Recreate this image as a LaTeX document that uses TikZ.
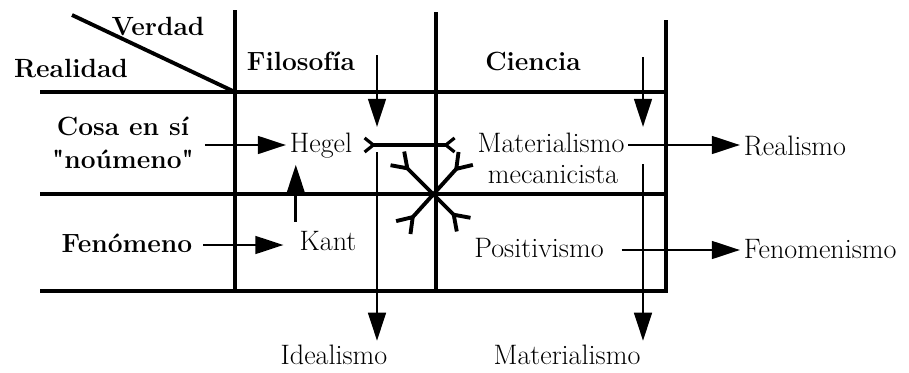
\documentclass[tikz,border=0pt]{standalone}
\usetikzlibrary{arrows.meta,calc,positioning}
% straight double quote, not turned into a curly one
\newcommand{\sq}{\XeTeXglyph\XeTeXcharglyph"22\relax}

\begin{document}
\begin{tikzpicture}[x=0.02cm,y=-0.02cm,>={Triangle[length=16pt,width=10pt]},
  font=\fontsize{16}{19}\selectfont,
  lbl/.style={inner sep=2pt,text height=11pt,text depth=3pt},
  head/.style={lbl,font=\fontsize{15}{18}\selectfont\bfseries},
  grid/.style={line width=1.8pt},
  arr/.style={->,line width=1.6pt},
  fork/.style={{Straight Barb[reversed,length=5pt,width=8pt]}-{Straight Barb[reversed,length=5pt,width=8pt]},line width=1.8pt},
  bigfork/.style={{Straight Barb[reversed,length=8pt,width=11pt]}-{Straight Barb[reversed,length=8pt,width=11pt]},line width=2.2pt}]
  \useasboundingbox (0,0) rectangle (909,372);
  % table
  \foreach \y in {92,194,291}
    \draw[grid] (40,\y) -- (666,\y);
  \draw[grid] (235,10) -- (235,291);
  \draw[grid] (436,12) -- (436,291);
  \draw[grid] (666,20) -- (666,293);
  \draw[line width=2.2pt] (72,15) -- (235,92);
  % headers
  \node[head] (verdad) at (158,28) {Verdad};
  \node[head] (realidad) at (71,70) {Realidad};
  \node[head] (filo) at (301,63) {Filosofía};
  \node[head] (cien) at (533,63) {Ciencia};
  \node[head] (cosa) at (123,128) {Cosa en sí};
  \node[head] (noum) at (123,161) {\sq noúmeno\sq};
  \node[head] (fen) at (127,245) {Fenómeno};
  % cells
  \node[lbl] (hegel) at (321,145) {Hegel};
  \node[lbl] (kant) at (328,243) {Kant};
  \node[lbl] (mat) at (551,145) {Materialismo};
  \node[lbl] (mec) at (553,176) {mecanicista};
  \node[lbl] (posit) at (539,250) {Positivismo};
  \node[lbl,anchor=west] (real) at (740,148) {Realismo};
  \node[lbl,anchor=west] (fenism) at (740,251) {Fenomenismo};
  \node[lbl] (ideal) at (334,357) {Idealismo};
  \node[lbl] (matb) at (567,357) {Materialismo};
  % arrows into the cells
  \draw[arr,shorten <=4pt] (noum.east |- hegel.west) -- (hegel.west);
  \draw[arr,shorten <=4pt,shorten >=7pt] (fen.east) -- (fen.east -| kant.west);
  \draw[arr,shorten <=3pt,shorten >=2pt] (kant.north west) -- (kant.north west |- hegel.south);
  \draw[fork,shorten <=4pt,shorten >=10pt] (hegel.east) -- (mat.west);
  % the cross
  \coordinate (cross) at (434,195);
  \draw[bigfork] ($(cross)+(-38,-38)$) -- ($(cross)+(31,31)$);
  \draw[bigfork] ($(cross)+(33,-38)$) -- ($(cross)+(-32,34)$);
  % arrows out
  \draw[arr] (mat.east) -- (mat.east -| real.west);
  \draw[arr,shorten <=8pt] (posit.east) -- (posit.east -| fenism.west);
  \coordinate (fil) at (377,55);
  \coordinate (cie) at (643,57);
  \draw[arr] (fil) -- ++(0,72);
  \draw[arr] ($(fil)+(0,97)$) -- (fil |- ideal.north);
  \draw[arr] (cie) -- ++(0,70);
  \draw[arr] ($(cie)+(0,107)$) -- (cie |- matb.north);
\end{tikzpicture}
\end{document}
